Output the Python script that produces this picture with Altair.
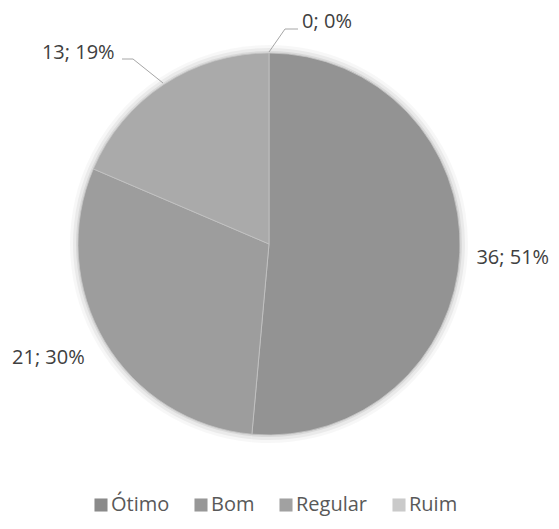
import altair as alt
import pandas as pd

categories = ["Ótimo", "Bom", "Regular", "Ruim"]
values = [0, 36, 21, 13]
slice_colors = ["#8a8a8a", "#939393", "#9d9d9d", "#aaaaaa"]
legend_colors = ["#8a8a8a", "#979797", "#a1a1a1", "#cacaca"]

total = sum(values)
labels = [f"{v}; {round(v * 100 / total)}%" for v in values]
df = pd.DataFrame({"cat": categories, "val": values, "ord": list(range(len(values))), "label": labels})

W, H = 522, 472
theta_scale = alt.Scale(domain=[0, total])
base = alt.Chart(df)

# soft shadow rings
shadows = [
    base.mark_arc(outerRadius=r, color="#000000", opacity=op, strokeWidth=0).encode(
        theta=alt.Theta("val:Q", stack=True, scale=theta_scale),
        order=alt.Order("ord:Q"),
    )
    for r, op in [(199, 0.03), (196, 0.05), (193, 0.07)]
]

pie = base.mark_arc(outerRadius=191, stroke="#c4c4c4", strokeWidth=0.8).encode(
    theta=alt.Theta("val:Q", stack=True, scale=theta_scale),
    order=alt.Order("ord:Q"),
    color=alt.Color("cat:N", scale=alt.Scale(domain=categories, range=slice_colors), legend=None),
)

nudges = {"Ótimo": (58, 28), "Bom": (-6, 3), "Regular": (-6, -14), "Ruim": (-53, 18)}
texts = []
for c in categories:
    dx, dy = nudges[c]
    texts.append(
        base.transform_window(cum="sum(val)", sort=[alt.SortField("ord")])
        .transform_calculate(mid="datum.cum - datum.val / 2")
        .transform_filter(alt.datum.cat == c)
        .mark_text(radius=250, dx=dx, dy=dy, font="Open Sans", fontSize=20, color="#404040",
                   align="center", baseline="middle")
        .encode(theta=alt.Theta("mid:Q", scale=theta_scale), text="label:N")
    )

lead_color = "#a6a6a6"
leaders = [
    base.transform_filter(alt.datum.cat == "Ótimo").mark_rule(color=lead_color, strokeWidth=1).encode(
        x=alt.value(261), y=alt.value(44), x2=alt.value(277), y2=alt.value(21)),
    base.transform_filter(alt.datum.cat == "Ótimo").mark_rule(color=lead_color, strokeWidth=1).encode(
        x=alt.value(277), y=alt.value(21), x2=alt.value(290), y2=alt.value(21)),
    base.transform_filter(alt.datum.cat == "Ruim").mark_rule(color=lead_color, strokeWidth=1).encode(
        x=alt.value(155), y=alt.value(75), x2=alt.value(125), y2=alt.value(51)),
    base.transform_filter(alt.datum.cat == "Ruim").mark_rule(color=lead_color, strokeWidth=1).encode(
        x=alt.value(125), y=alt.value(51), x2=alt.value(114), y2=alt.value(51)),
]

legend_layer = base.mark_square(opacity=0, size=0).encode(
    x=alt.value(0), y=alt.value(0),
    color=alt.Color(
        "cat:N",
        scale=alt.Scale(domain=categories, range=legend_colors),
        legend=alt.Legend(
            title=None, orient="none", direction="horizontal", legendX=83, legendY=487,
            symbolType="square", symbolSize=170, symbolOpacity=1, symbolStrokeWidth=0,
            labelFont="Open Sans", labelFontSize=20, labelColor="#595959",
            labelOffset=0, columnPadding=21,
        ),
    ),
)

chart = (
    alt.layer(*shadows, pie, *leaders, *texts, legend_layer)
    .resolve_scale(color="independent")
    .properties(width=W, height=H, autosize=alt.AutoSizeParams(type="none"),
                padding={"left": 0, "top": 0, "right": 21, "bottom": 41})
    .configure_view(stroke=None)
)

chart.save("out.html", embed_options={"renderer": "svg", "actions": False})
